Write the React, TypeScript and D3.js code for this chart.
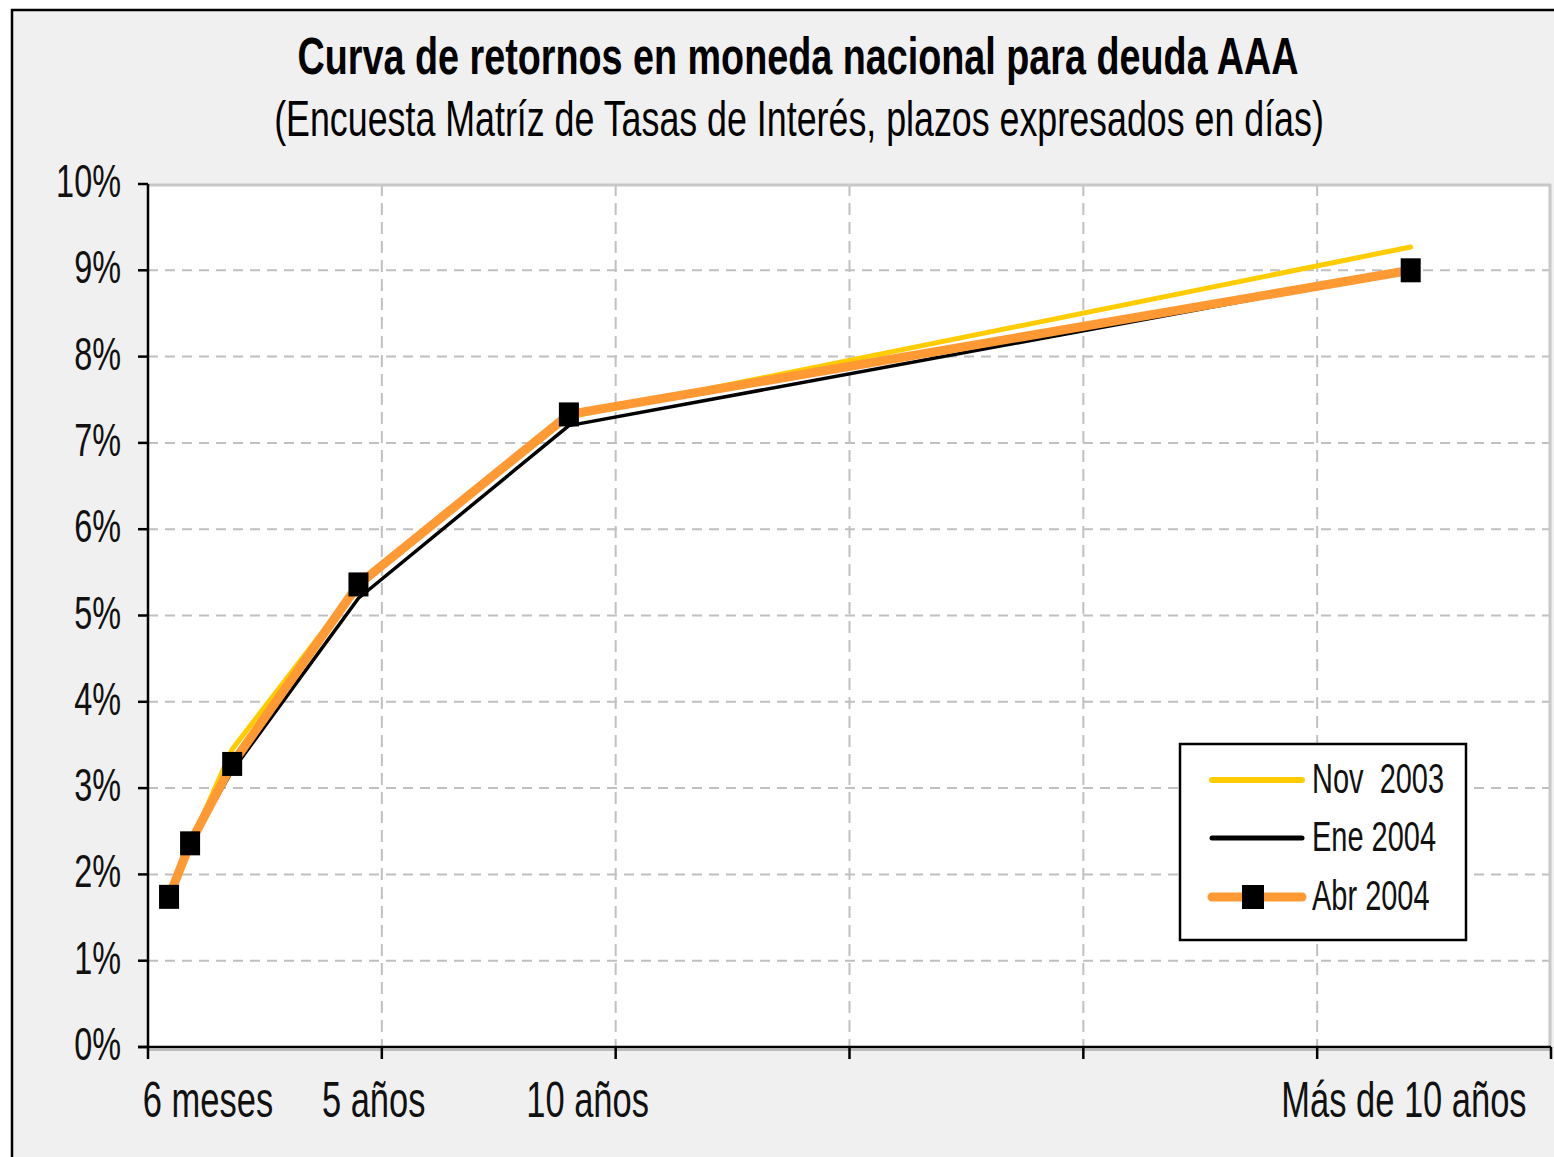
import React from "react";
import * as d3 from "d3";

// ---- data ----
const termDays = [180, 360, 720, 1800, 3600, 10800];
const nov2003 = [1.75, 2.35, 3.45, 5.35, 7.3, 9.27];
const ene2004 = [1.75, 2.35, 3.2, 5.2, 7.2, 9.0];
const abr2004 = [1.74, 2.36, 3.28, 5.36, 7.33, 9.0];
const yTicks = [0, 1, 2, 3, 4, 5, 6, 7, 8, 9, 10];
const xTicks = [0, 2000, 4000, 6000, 8000, 10000, 12000];
const xLabels = ["6 meses", "5 años", "10 años", "Más de 10 años"];
const xLabelDays = [513, 1930, 3760, 10742];
const seriesNames = ["Nov\u00a0\u00a02003", "Ene 2004", "Abr 2004"];
const title = "Curva de retornos en moneda nacional para deuda AAA";
const subtitle = "(Encuesta Matríz de Tasas de Interés, plazos expresados en días)";

const FONT = "'Liberation Sans', Arial, sans-serif";
const SX = 0.69;

export default function App() {
  const x = d3.scaleLinear().domain([0, 12000]).range([148, 1551]);
  const y = d3.scaleLinear().domain([0, 10]).range([1047, 184]);
  const line = d3
    .line<[number, number]>()
    .x((d) => x(d[0]))
    .y((d) => y(d[1]));
  const pts = (vals: number[]) => termDays.map((d, i) => [d, vals[i]] as [number, number]);

  const colors = ["#FFCC00", "#000000", "#FF9933"];
  const widths = [5, 3.5, 9];

  const legX = 1180, legY = 744, legW = 286, legH = 196;
  const legRows = [780, 838, 897];

  return (
    <svg
      width={1554}
      height={1157}
      style={{ position: "absolute", left: 0, top: 0, background: "#ffffff" }}
    >
      <rect x={12} y={10} width={1700} height={1300} fill="#f0f0f0" stroke="#000" strokeWidth={2.5} />
      <text transform={`translate(798,74) scale(0.74,1)`} textAnchor="middle" fontFamily={FONT}
        fontWeight="bold" fontSize={51} fill="#000">{title}</text>
      <text transform={`translate(799,136) scale(0.716,1)`} textAnchor="middle" fontFamily={FONT}
        fontSize={50} fill="#000">{subtitle}</text>

      {/* plot area */}
      <rect x={x(0)} y={y(10)} width={x(12000) - x(0)} height={y(0) - y(10)} fill="#ffffff" />
      {yTicks.filter((t) => t > 0 && t < 10).map((t) => (
        <line key={"hy" + t} x1={x(0)} x2={x(12000)} y1={y(t)} y2={y(t)} stroke="#c0c0c0"
          strokeWidth={2} strokeDasharray="10,7" />
      ))}
      {xTicks.filter((t) => t > 0 && t < 12000).map((t) => (
        <line key={"vx" + t} x1={x(t)} x2={x(t)} y1={y(10)} y2={y(0)} stroke="#c0c0c0"
          strokeWidth={2} strokeDasharray="12,7" />
      ))}
      <line x1={x(0)} x2={x(12000)} y1={y(10) + 1} y2={y(10) + 1} stroke="#c8c8c8" strokeWidth={3} />
      <line x1={x(12000) - 1} x2={x(12000) - 1} y1={y(10)} y2={y(0)} stroke="#c8c8c8" strokeWidth={3} />

      {/* axes */}
      <line x1={x(0)} x2={x(0)} y1={y(10)} y2={y(0)} stroke="#000" strokeWidth={2.5} />
      <line x1={x(0) - 10} x2={x(12000)} y1={y(0)} y2={y(0)} stroke="#000" strokeWidth={2.5} />
      <line x1={x(0)} x2={x(12000)} y1={y(0) + 3} y2={y(0) + 3} stroke="#aaa" strokeWidth={1.5} />
      {yTicks.map((t) => (
        <g key={"yt" + t}>
          <line x1={x(0) - 10} x2={x(0)} y1={y(t)} y2={y(t)} stroke="#000" strokeWidth={2.5} />
          <text transform={`translate(121,${y(t) + 13}) scale(${SX},1)`} textAnchor="end"
            fontFamily={FONT} fontSize={47} fill="#111">{t}%</text>
        </g>
      ))}
      {xTicks.map((t) => (
        <line key={"xt" + t} x1={x(t)} x2={x(t)} y1={y(0)} y2={y(0) + 12} stroke="#000" strokeWidth={2.5} />
      ))}
      {xLabels.map((l, i) => (
        <text key={l} transform={`translate(${x(xLabelDays[i])},1117) scale(${SX},1)`} textAnchor="middle"
          fontFamily={FONT} fontSize={50} fill="#111">{l}</text>
      ))}

      {/* series */}
      {[nov2003, ene2004, abr2004].map((s, i) => (
        <path key={"s" + i} d={line(pts(s)) || ""} fill="none" stroke={colors[i]} strokeWidth={widths[i]}
          strokeLinejoin="round" strokeLinecap="round" />
      ))}
      {pts(abr2004).map((p, i) => (
        <rect key={"m" + i} x={x(p[0]) - 10} y={y(p[1]) - 12} width={20} height={24} fill="#000" />
      ))}

      {/* legend */}
      <rect x={legX} y={legY} width={legW} height={legH} fill="#fff" stroke="#000" strokeWidth={2.5} />
      {seriesNames.map((n, i) => (
        <g key={n}>
          <line x1={1212} x2={1302} y1={legRows[i]} y2={legRows[i]} stroke={colors[i]}
            strokeWidth={i === 2 ? 9 : i === 0 ? 6 : 5} strokeLinecap="round" />
          {i === 2 && <rect x={1242} y={legRows[i] - 12} width={22} height={24} fill="#000" />}
          <text transform={`translate(1312,${legRows[i] + 13}) scale(${SX},1)`} fontFamily={FONT}
            fontSize={42} fill="#111">{n}</text>
        </g>
      ))}
    </svg>
  );
}
